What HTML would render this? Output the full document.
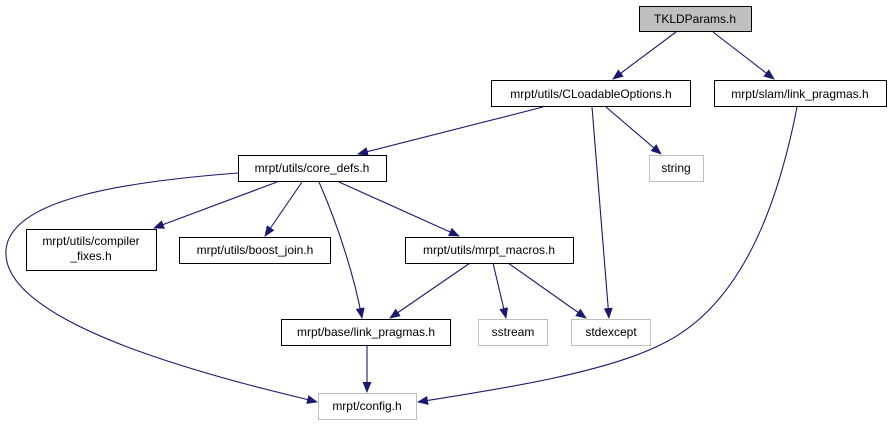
<!DOCTYPE html>
<html><head><style>body{margin:0;background:#fff}svg{display:block}</style></head><body>
<svg width="892" height="425" viewBox="0 0 892 425" xmlns="http://www.w3.org/2000/svg" font-family="Liberation Sans, sans-serif" font-size="12">
<defs><marker id="a" markerWidth="11" markerHeight="9" refX="10" refY="4.5" orient="auto" markerUnits="userSpaceOnUse"><path d="M0,0 L11,4.5 L0,9 z" fill="#191970"/></marker></defs>
<g fill="none" stroke="#191970" stroke-width="1.1" marker-end="url(#a)">
<path d="M676,32 L613,79"/>
<path d="M713,32 L774,79"/>
<path d="M543,107 L358,154"/>
<path d="M592,107 L609,318"/>
<path d="M606,107 L661,154"/>
<path d="M797,107 C775,220 735,310 660,345 C600,375 480,392 418,402"/>
<path d="M238,173 C120,182 10,200 6,250 C2,300 100,340 180,365 C240,384 290,395 317,402"/>
<path d="M277,182 L154,228"/>
<path d="M302,182 L265,236"/>
<path d="M319,182 C340,230 355,280 362,318"/>
<path d="M339,182 L459,236"/>
<path d="M470,263 L390,318"/>
<path d="M493,263 L506,318"/>
<path d="M508,263 L586,318"/>
<path d="M367,345 L367,392"/>
</g>
<g stroke-width="1">
<rect x="639.5" y="6.5" width="112" height="25" fill="#bfbfbf" stroke="#000"/>
<rect x="491.5" y="80.5" width="199" height="26" fill="#fff" stroke="#000"/>
<rect x="714.5" y="80.5" width="172" height="26" fill="#fff" stroke="#000"/>
<rect x="238.5" y="155.5" width="148" height="26" fill="#fff" stroke="#000"/>
<rect x="649.5" y="155.5" width="54" height="26" fill="#fff" stroke="#bfbfbf"/>
<rect x="26.5" y="229.5" width="130" height="41" fill="#fff" stroke="#000"/>
<rect x="179.5" y="237.5" width="151" height="26" fill="#fff" stroke="#000"/>
<rect x="405.5" y="237.5" width="168" height="26" fill="#fff" stroke="#000"/>
<rect x="281.5" y="319.5" width="169" height="26" fill="#fff" stroke="#000"/>
<rect x="478.5" y="319.5" width="69" height="26" fill="#fff" stroke="#bfbfbf"/>
<rect x="571.5" y="319.5" width="79" height="26" fill="#fff" stroke="#bfbfbf"/>
<rect x="318.5" y="393.5" width="98" height="26" fill="#fff" stroke="#bfbfbf"/>
</g>
<g fill="#000" text-anchor="middle">
<text x="695" y="23">TKLDParams.h</text>
<text x="591" y="98">mrpt/utils/CLoadableOptions.h</text>
<text x="800" y="98">mrpt/slam/link_pragmas.h</text>
<text x="312" y="172">mrpt/utils/core_defs.h</text>
<text x="676" y="172">string</text>
<text x="91" y="245">mrpt/utils/compiler</text>
<text x="91" y="260">_fixes.h</text>
<text x="255" y="254">mrpt/utils/boost_join.h</text>
<text x="489" y="254">mrpt/utils/mrpt_macros.h</text>
<text x="366" y="336">mrpt/base/link_pragmas.h</text>
<text x="513" y="336">sstream</text>
<text x="611" y="336">stdexcept</text>
<text x="367" y="410">mrpt/config.h</text>
</g>
</svg>
</body></html>
